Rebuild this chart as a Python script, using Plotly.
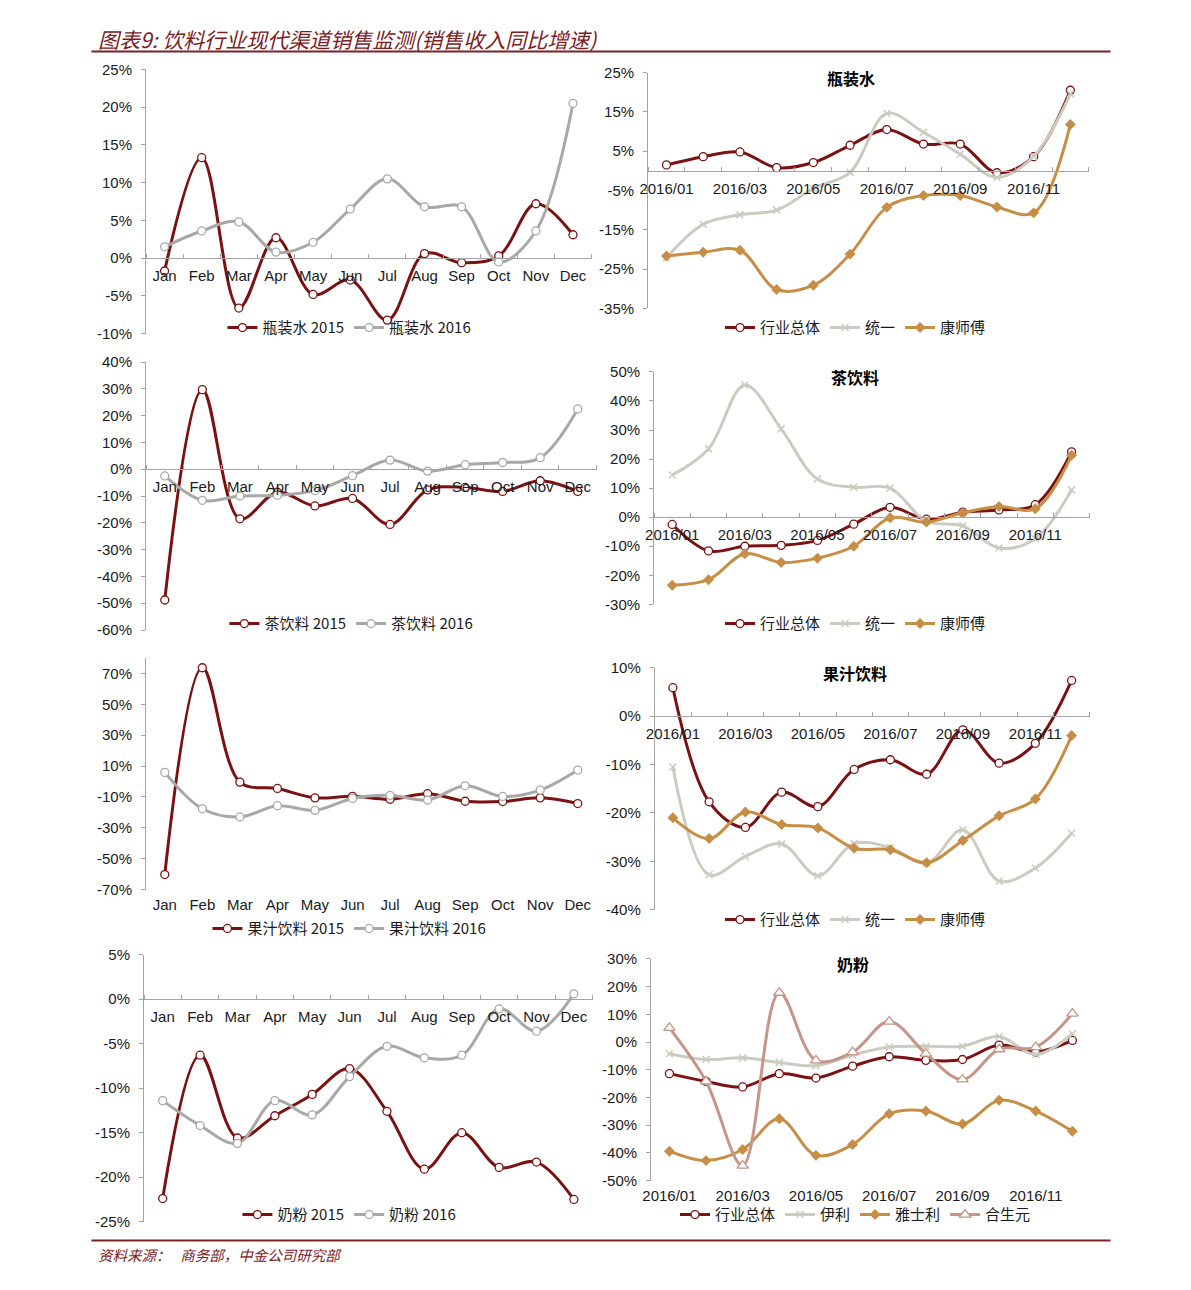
import plotly.graph_objects as go

# figure size chosen so that the page (figure + 8px offsets) is exactly 1191 x 1290
OX, OY = 8, 8
WF, HF = 1191 - 2 * OX, 1290 - 2 * OY

# ---------------- data ----------------
MONTHS = ["Jan", "Feb", "Mar", "Apr", "May", "Jun", "Jul", "Aug", "Sep", "Oct", "Nov", "Dec"]
MONTH_IDX = list(range(1, 13))
PERIOD_LABELS = ["2016/01", "2016/03", "2016/05", "2016/07", "2016/09", "2016/11"]
PERIOD_IDX = [1, 3, 5, 7, 9, 11]

WATER_2015 = [-0.017, 0.133, -0.066, 0.027, -0.048, -0.029, -0.082, 0.006, -0.006, 0.003, 0.072, 0.031]
WATER_2016 = [0.015, 0.036, 0.048, 0.008, 0.021, 0.065, 0.105, 0.068, 0.068, -0.005, 0.036, 0.205]
WATER_TONGYI = [-0.221, -0.136, -0.112, -0.100, -0.045, -0.004, 0.146, 0.098, 0.042, -0.017, 0.037, 0.196]
WATER_KSF = [-0.217, -0.207, -0.202, -0.302, -0.291, -0.212, -0.093, -0.063, -0.063, -0.092, -0.107, 0.118]

TEA_2015 = [-0.488, 0.297, -0.185, -0.086, -0.137, -0.109, -0.206, -0.077, -0.068, -0.083, -0.043, -0.083]
TEA_2016 = [-0.025, -0.116, -0.100, -0.097, -0.080, -0.024, 0.034, -0.007, 0.017, 0.025, 0.043, 0.225]
TEA_TONGYI = [0.145, 0.235, 0.455, 0.304, 0.131, 0.103, 0.100, -0.014, -0.030, -0.106, -0.074, 0.094]
TEA_KSF = [-0.234, -0.215, -0.126, -0.156, -0.141, -0.100, -0.002, -0.017, 0.015, 0.037, 0.029, 0.213]

JUICE_2015 = [-0.603, 0.737, -0.004, -0.045, -0.106, -0.096, -0.115, -0.079, -0.128, -0.130, -0.106, -0.143]
JUICE_2016 = [0.059, -0.177, -0.230, -0.157, -0.187, -0.110, -0.090, -0.120, -0.028, -0.097, -0.056, 0.074]
JUICE_TONGYI = [-0.105, -0.328, -0.290, -0.264, -0.330, -0.263, -0.272, -0.304, -0.235, -0.341, -0.314, -0.242]
JUICE_KSF = [-0.210, -0.253, -0.198, -0.224, -0.231, -0.273, -0.276, -0.303, -0.257, -0.206, -0.171, -0.040]

MILK_2015 = [-0.224, -0.063, -0.156, -0.131, -0.107, -0.078, -0.126, -0.191, -0.150, -0.189, -0.183, -0.225]
MILK_2016 = [-0.114, -0.142, -0.162, -0.114, -0.130, -0.087, -0.053, -0.066, -0.063, -0.011, -0.036, 0.006]
MILK_YILI = [-0.042, -0.063, -0.057, -0.074, -0.085, -0.047, -0.018, -0.015, -0.015, 0.020, -0.045, 0.030]
MILK_YASHILI = [-0.394, -0.428, -0.388, -0.277, -0.409, -0.370, -0.259, -0.249, -0.296, -0.210, -0.249, -0.322]
MILK_HSY = [0.051, -0.142, -0.446, 0.178, -0.066, -0.036, 0.074, -0.042, -0.135, -0.026, -0.018, 0.103]

YT_WATER_L = [-0.10, -0.05, 0.0, 0.05, 0.10, 0.15, 0.20, 0.25]
YT_WATER_R = [-0.35, -0.25, -0.15, -0.05, 0.05, 0.15, 0.25]
YT_TEA_L = [-0.6, -0.5, -0.4, -0.3, -0.2, -0.1, 0.0, 0.1, 0.2, 0.3, 0.4]
YT_TEA_R = [-0.3, -0.2, -0.1, 0.0, 0.1, 0.2, 0.3, 0.4, 0.5]
YT_JUICE_L = [-0.7, -0.5, -0.3, -0.1, 0.1, 0.3, 0.5, 0.7]
YT_JUICE_R = [-0.4, -0.3, -0.2, -0.1, 0.0, 0.1]
YT_MILK_L = [-0.25, -0.20, -0.15, -0.10, -0.05, 0.0, 0.05]
YT_MILK_R = [-0.5, -0.4, -0.3, -0.2, -0.1, 0.0, 0.1, 0.2, 0.3]

HEADER = "图表9: 饮料行业现代渠道销售监测(销售收入同比增速)"
FOOTER = "资料来源：   商务部，中金公司研究部"

# ---------------- styles ----------------
DARK_RED = "#7A1214"
HEAD_RED = "#7B2125"
AXIS_GRAY = "#A3A3A3"
TXT = "#1a1a1a"
LAT = "Liberation Sans, Arial, Noto Sans CJK SC"
CJK = "Noto Sans CJK SC, Liberation Sans"

STYLE = {
    "total": dict(color=DARK_RED, symbol="circle", fill="white", size=8),
    "y2016": dict(color="#A8A8A8", symbol="circle", fill="white", size=8),
    "tongyi": dict(color="#CBCBC1", symbol="x-thin", fill=None, size=7),
    "ksf": dict(color="#C68E46", symbol="diamond", fill="#C68E46", size=7),
    "hsy": dict(color="#C49588", symbol="triangle-up", fill="white", size=10),
}


def px_x(x):
    return (x - OX) / WF


def px_y(y):
    return 1 - (y - OY) / HF


def pct(v):
    return f"{round(v * 100):d}%"


PANELS = [
    dict(x=(138, 587), y=(61, 329), yr=(-0.10, 0.25), yt=YT_WATER_L, mode="zero", xl="month",
         series=[("瓶装水 2015", WATER_2015, "total"), ("瓶装水 2016", WATER_2016, "y2016")],
         leg=(343, 323), title=None),
    dict(x=(644, 1088), y=(64.3, 303.3), yr=(-0.35, 0.25), yt=YT_WATER_R, mode="zero", xl="period",
         series=[("行业总体", WATER_2016, "total"), ("统一", WATER_TONGYI, "tongyi"), ("康师傅", WATER_KSF, "ksf")],
         leg=(853, 323), title=("瓶装水", 848, 70)),
    dict(x=(138, 592), y=(357.7, 629.3), yr=(-0.6, 0.4), yt=YT_TEA_L, mode="zero", xl="month",
         series=[("茶饮料 2015", TEA_2015, "total"), ("茶饮料 2016", TEA_2016, "y2016")],
         leg=(345, 623), title=None),
    dict(x=(650, 1089), y=(367.7, 603.3), yr=(-0.3, 0.5), yt=YT_TEA_R, mode="zero", xl="period",
         series=[("行业总体", TEA_2016, "total"), ("统一", TEA_TONGYI, "tongyi"), ("康师傅", TEA_KSF, "ksf")],
         leg=(853, 623), title=("茶饮料", 852, 373)),
    dict(x=(138, 592), y=(657.7, 892.3), yr=(-0.7, 0.8), yt=YT_JUICE_L, mode="bottom", xl="month",
         series=[("果汁饮料 2015", JUICE_2015, "total"), ("果汁饮料 2016", JUICE_2016, "y2016")],
         leg=(343, 932), title=None),
    dict(x=(650.7, 1089), y=(667.7, 912.7), yr=(-0.4, 0.1), yt=YT_JUICE_R, mode="zero", xl="period",
         series=[("行业总体", JUICE_2016, "total"), ("统一", JUICE_TONGYI, "tongyi"), ("康师傅", JUICE_KSF, "ksf")],
         leg=(853, 923), title=("果汁饮料", 852, 673)),
    dict(x=(136, 588), y=(958.3, 1229), yr=(-0.25, 0.05), yt=YT_MILK_L, mode="zero", xl="month",
         series=[("奶粉 2015", MILK_2015, "total"), ("奶粉 2016", MILK_2016, "y2016")],
         leg=(343, 1222), title=None),
    dict(x=(647, 1090), y=(962.7, 1187.3), yr=(-0.5, 0.3), yt=YT_MILK_R, mode="bottom", xl="period",
         series=[("行业总体", MILK_2016, "total"), ("伊利", MILK_YILI, "tongyi"),
                 ("雅士利", MILK_YASHILI, "ksf"), ("合生元", MILK_HSY, "hsy")],
         leg=(853, 1222), title=("奶粉", 850, 968)),
]

fig = go.Figure()
layout = dict(
    width=WF, height=HF, margin=dict(l=0, r=0, t=0, b=0),
    paper_bgcolor="white", plot_bgcolor="white", showlegend=True,
    annotations=[], shapes=[],
)


def aname(kind, i):
    return f"{kind}axis" if i == 1 else f"{kind}axis{i}"


def aref(kind, i):
    return kind if i == 1 else f"{kind}{i}"


extra = 9
for i, p in enumerate(PANELS, start=1):
    xd = [px_x(p["x"][0]), px_x(p["x"][1])]
    yd = [px_y(p["y"][1]), px_y(p["y"][0])]
    y0, y1 = p["yr"]
    zero_pos = yd[0] + (0 - y0) / (y1 - y0) * (yd[1] - yd[0])
    legname = "legend" if i == 1 else f"legend{i}"

    for name, vals, sk in p["series"]:
        s = STYLE[sk]
        if s["fill"] is None:
            marker = dict(symbol=s["symbol"], size=s["size"], color=s["color"],
                          line=dict(color=s["color"], width=1.5))
        else:
            marker = dict(symbol=s["symbol"], size=s["size"], color=s["fill"],
                          line=dict(color=s["color"], width=1.3))
        fig.add_trace(go.Scatter(
            x=MONTH_IDX, y=vals, name=name, mode="lines+markers",
            line=dict(color=s["color"], width=3, shape="spline", smoothing=1.0),
            marker=marker, xaxis=aref("x", i), yaxis=aref("y", i), legend=legname,
            cliponaxis=False,
        ))

    if p["xl"] == "month":
        tv, tt = MONTH_IDX, MONTHS
    else:
        tv, tt = PERIOD_IDX, PERIOD_LABELS

    minor = dict(ticks="inside", ticklen=4, tickcolor=AXIS_GRAY, tick0=0.5, dtick=1, showgrid=False)
    xa = dict(domain=xd, range=[0.5, 12.5], tickvals=tv, ticktext=tt, ticks="",
              tickfont=dict(family=LAT, size=15, color=TXT), showgrid=False, zeroline=False,
              fixedrange=True, ticklabelstandoff=4)
    if p["mode"] == "zero":
        xa.update(anchor="free", position=zero_pos, showline=True, linecolor=AXIS_GRAY,
                  linewidth=1, minor=minor)
    else:
        xa.update(anchor=aref("y", i), showline=False)
        layout[aname("x", extra)] = dict(
            domain=xd, range=[0.5, 12.5], overlaying=aref("x", i), anchor="free",
            position=zero_pos, showline=True, linecolor=AXIS_GRAY, linewidth=1,
            showticklabels=False, ticks="", showgrid=False, zeroline=False, minor=minor,
            tickvals=tv)
        extra += 1
    layout[aname("x", i)] = xa

    layout[aname("y", i)] = dict(
        domain=yd, range=[y0, y1], anchor=aref("x", i), tickvals=p["yt"],
        ticktext=[pct(v) for v in p["yt"]], ticks="outside", ticklen=4,
        tickcolor=AXIS_GRAY, showline=True, linecolor=AXIS_GRAY, linewidth=1,
        showgrid=False, zeroline=False, tickfont=dict(family=LAT, size=15, color=TXT),
        fixedrange=True, ticklabelstandoff=6)

    layout[legname] = dict(
        orientation="h", x=px_x(p["leg"][0]), y=px_y(p["leg"][1]), xanchor="center",
        yanchor="middle", font=dict(family=CJK, size=15, color=TXT),
        bgcolor="rgba(0,0,0,0)", itemwidth=30, tracegroupgap=0, itemclick=False)

    if p["title"]:
        t, tx, ty = p["title"]
        layout["annotations"].append(dict(
            text=f"<b>{t}</b>", x=px_x(tx), y=px_y(ty), xref="paper", yref="paper",
            showarrow=False, font=dict(family=CJK, size=16, color="#000"),
            xanchor="center", yanchor="middle"))

# header / footer
layout["annotations"].append(dict(
    text=f"<i>{HEADER}</i>", x=px_x(88), y=px_y(30), xref="paper", yref="paper",
    showarrow=False, xanchor="left", yanchor="middle",
    font=dict(family=CJK, size=21, color=HEAD_RED)))
layout["annotations"].append(dict(
    text=f"<i>{FOOTER}</i>", x=px_x(88), y=px_y(1262), xref="paper", yref="paper",
    showarrow=False, xanchor="left", yanchor="middle",
    font=dict(family=CJK, size=14.5, color=HEAD_RED)))
for yy in (43, 1248):
    layout["shapes"].append(dict(
        type="line", xref="paper", yref="paper", x0=px_x(83), x1=px_x(1110),
        y0=px_y(yy), y1=px_y(yy), line=dict(color=HEAD_RED, width=2)))

fig.update_layout(**layout)
fig.write_html("out.html", config={"displayModeBar": False})
